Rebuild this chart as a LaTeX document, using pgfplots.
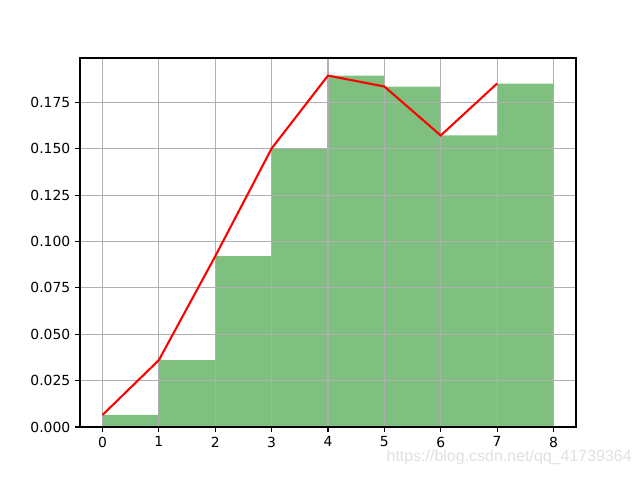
\documentclass[border=0pt]{standalone}
\usepackage{pgfplots}
\pgfplotsset{compat=1.18}
\usepackage{fontspec}
\setmainfont{DejaVu Sans}
\newfontfamily\wmfont{Liberation Sans}
\definecolor{gridc}{HTML}{B0B0B0}
\definecolor{mplgreen}{HTML}{008000}
\begin{document}
\begin{tikzpicture}
\begin{axis}[
  set layers, axis on top,
  at={(57.6pt,38.16pt)}, anchor=south west,
  scale only axis, width=357.12pt, height=265.68pt,
  xmin=-0.4, xmax=8.4, ymin=0, ymax=0.19898,
  xtick={0,1,2,3,4,5,6,7,8},
  ytick={0,0.025,0.05,0.075,0.1,0.125,0.15,0.175},
  yticklabel style={/pgf/number format/.cd, fixed, fixed zerofill, precision=3},
  /pgf/number format/assume math mode=true,
  scaled y ticks=false,
  grid=major, major grid style={gridc, line width=0.8pt},
  tick align=outside, major tick length=3.5pt,
  tick style={black, line width=0.8pt},
  axis line style={line width=0.8pt},
  tick label style={font=\fontsize{10}{12}\selectfont},
  xtick pos=bottom, ytick pos=left,
]
\addplot[ybar interval, fill=mplgreen, fill opacity=0.5, draw=none] coordinates {
(0,0.0065) (1,0.0361) (2,0.0921) (3,0.1502) (4,0.1895) (5,0.1836) (6,0.1572) (7,0.1852) (8,0.1852)};
\addplot[red, line width=1.5pt, mark=none, on layer=axis foreground] coordinates {
(0,0.0065) (1,0.0361) (2,0.0921) (3,0.1502) (4,0.1895) (5,0.1836) (6,0.1572) (7,0.1852)};
\end{axis}
\node[anchor=base east, text=black!12, font=\fontsize{11.5}{13}\selectfont\wmfont, inner sep=0pt] at (455.04pt,12.96pt) {https://blog.csdn.net/qq\_41739364};
\path (0,0) rectangle (460.8pt,345.6pt);
\end{tikzpicture}
\end{document}
